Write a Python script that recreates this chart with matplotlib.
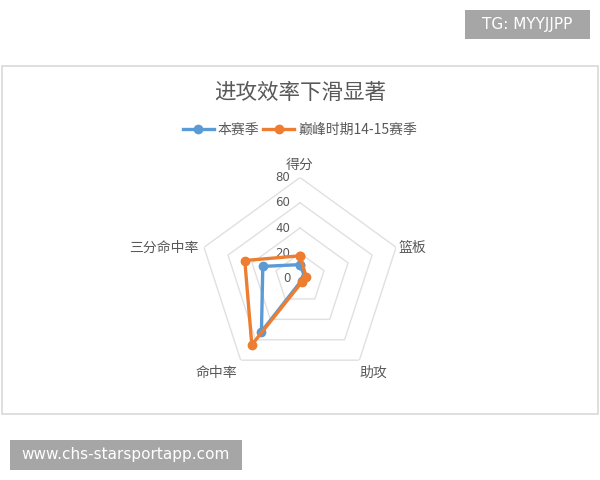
import numpy as np
import matplotlib
matplotlib.use('Agg')
import matplotlib.pyplot as plt
from matplotlib.patches import Rectangle

plt.rcParams['font.family'] = ['Noto Sans CJK SC', 'DejaVu Sans']

# Data
categories = ['得分', '篮板', '助攻', '命中率', '三分命中率']
this_season = [11, 4, 2, 52, 31]
peak_season = [18, 5, 3, 65, 46]
series_names = ['本赛季', '巅峰时期14-15赛季']
ring_values = [20, 40, 60, 80]
tick_values = [0, 20, 40, 60, 80]

# where the category names sit (degrees clockwise from top, radius in data units)
label_angle = [0, 74.8, 142.3, 221.6, 282.6]
label_r = [90, 92, 94.6, 100, 110.4]

BLUE = '#5b9bd5'
ORANGE = '#ed7d31'
TEXT = '#595959'
GRID = '#e0e0e0'

fig = plt.figure(figsize=(6, 4.8), dpi=100)

# chart frame
fig.patches.append(Rectangle((0.0033, 0.1375), 0.9934, 0.725, transform=fig.transFigure,
                             facecolor='none', edgecolor='#d9d9d9', linewidth=1.2, zorder=0))

ax = fig.add_axes([0.3317, 0.2094, 0.3367, 0.4208], projection='polar')
ax.set_theta_offset(np.pi / 2)
ax.set_theta_direction(-1)
ax.set_ylim(0, 80)
ax.grid(False)
ax.spines['polar'].set_visible(False)
ax.set_yticks([])
ax.set_xticks([])
ax.patch.set_alpha(0)

angles = np.linspace(0, 2 * np.pi, len(categories), endpoint=False)
closed = np.append(angles, angles[0])

# pentagon rings
for rv in ring_values:
    ax.plot(closed, [rv] * len(closed), color=GRID, lw=1, zorder=1)

# radial tick labels left of the top spoke
for tv in tick_values:
    ax.annotate(str(tv), (0, tv), xytext=(-7, 0), textcoords='offset points',
                ha='right', va='center', fontsize=8.5, color=TEXT, family=['DejaVu Sans'])

# category names
for name, a, r in zip(categories, label_angle, label_r):
    ax.text(np.deg2rad(a), r, name, ha='center', va='center', fontsize=10, color=TEXT)

for vals, col, name in [(this_season, BLUE, series_names[0]), (peak_season, ORANGE, series_names[1])]:
    v = np.append(vals, vals[0])
    ax.plot(closed, v, color=col, lw=2.4, marker='o', markersize=6, label=name, zorder=3)

fig.text(0.5, 0.806, '进攻效率下滑显著', ha='center', va='center', fontsize=15.5, color=TEXT)
fig.legend(loc='center', bbox_to_anchor=(0.5, 0.729), ncol=2, frameon=False, fontsize=10,
           handlelength=2.2, handletextpad=0.3, columnspacing=0.3, labelcolor=TEXT)

# watermark boxes
fig.patches.append(Rectangle((465 / 600, 1 - 39 / 480), 125 / 600, 29 / 480,
                             transform=fig.transFigure, facecolor='#a6a6a6', edgecolor='none'))
fig.text(527.5 / 600, 1 - 24.5 / 480, 'TG: MYYJJPP', ha='center', va='center', fontsize=11,
         color='white', family=['DejaVu Sans'])
fig.patches.append(Rectangle((10 / 600, 1 - 470 / 480), 232 / 600, 30 / 480,
                             transform=fig.transFigure, facecolor='#a6a6a6', edgecolor='none'))
fig.text(126 / 600, 1 - 455 / 480, 'www.chs-starsportapp.com', ha='center', va='center',
         fontsize=11, color='white', family=['DejaVu Sans'])

fig.savefig('out.png', dpi=100)
